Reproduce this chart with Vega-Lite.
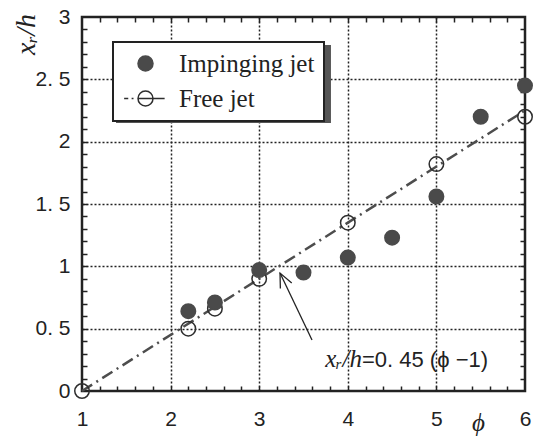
{
  "$schema": "https://vega.github.io/schema/vega-lite/v6.json",
  "width": 443,
  "height": 374,
  "autosize": "none",
  "padding": {"left": 82, "top": 17, "right": 10, "bottom": 47},
  "background": "white",
  "datasets": {
    "points": [
      {"phi": 1.0, "xr_h": 0.0, "series": "Free jet"},
      {"phi": 2.2, "xr_h": 0.5, "series": "Free jet"},
      {"phi": 2.5, "xr_h": 0.66, "series": "Free jet"},
      {"phi": 3.0, "xr_h": 0.9, "series": "Free jet"},
      {"phi": 4.0, "xr_h": 1.35, "series": "Free jet"},
      {"phi": 5.0, "xr_h": 1.82, "series": "Free jet"},
      {"phi": 6.0, "xr_h": 2.2, "series": "Free jet"},
      {"phi": 2.2, "xr_h": 0.64, "series": "Impinging jet"},
      {"phi": 2.5, "xr_h": 0.71, "series": "Impinging jet"},
      {"phi": 3.0, "xr_h": 0.97, "series": "Impinging jet"},
      {"phi": 3.5, "xr_h": 0.95, "series": "Impinging jet"},
      {"phi": 4.0, "xr_h": 1.07, "series": "Impinging jet"},
      {"phi": 4.5, "xr_h": 1.23, "series": "Impinging jet"},
      {"phi": 5.0, "xr_h": 1.56, "series": "Impinging jet"},
      {"phi": 5.5, "xr_h": 2.2, "series": "Impinging jet"},
      {"phi": 6.0, "xr_h": 2.45, "series": "Impinging jet"}
    ],
    "fit": [
      {"phi": 1, "xr_h": 0},
      {"phi": 6, "xr_h": 2.25}
    ],
    "one": [{}]
  },
  "config": {
    "view": {"stroke": "#222", "strokeWidth": 2.5},
    "axis": {
      "domain": false,
      "ticks": false,
      "tickColor": "#222",
      "tickWidth": 1.5,
      "labelColor": "#222",
      "labelFont": "Liberation Sans",
      "labelFontSize": 21,
      "labelOverlap": false,
      "labelFlush": false,
      "labelBound": false,
      "titleColor": "#222",
      "gridColor": "#222",
      "gridWidth": 1.5,
      "gridDash": [2, 2]
    },
    "legend": {
      "orient": "none",
      "legendX": 31,
      "legendY": 25,
      "fillColor": "white",
      "strokeColor": "#222",
      "strokeWidth": 2,
      "padding": 9,
      "rowPadding": 9,
      "labelFont": "Liberation Serif",
      "labelFontSize": 25,
      "labelColor": "#222",
      "symbolSize": 225,
      "symbolStrokeWidth": 1.5,
      "symbolStrokeColor": "#333",
      "symbolOpacity": 1,
      "symbolOffset": 11,
      "labelOffset": 21
    }
  },
  "resolve": {"axis": {"x": "independent", "y": "independent"}},
  "layer": [
    {
      "data": {"name": "one"},
      "mark": {"type": "rect", "color": "#555"},
      "encoding": {
        "x": {"datum": 1.384, "type": "quantitative", "scale": {"domain": [1, 6], "nice": false, "zero": false}, "axis": null},
        "x2": {"datum": 3.81},
        "y": {"datum": 2.775, "type": "quantitative", "scale": {"domain": [0, 3], "nice": false, "zero": false}, "axis": null},
        "y2": {"datum": 2.149}
      }
    },
    {
      "data": {"name": "fit"},
      "mark": {"type": "line", "color": "#4d4d4d", "strokeWidth": 2.5, "strokeDash": [12, 5, 2, 5]},
      "encoding": {
        "x": {
          "field": "phi", "type": "quantitative",
          "scale": {"domain": [1, 6], "nice": false, "zero": false},
          "axis": {
            "orient": "bottom",
            "values": [1, 2, 3, 4, 5, 6],
            "format": "d",
            "labelPadding": 17,
            "grid": true,
            "gridOpacity": {"condition": {"test": "datum.value > 1.5 && datum.value < 5.5", "value": 1}, "value": 0},
            "title": "ϕ",
            "titleFont": "Liberation Serif",
            "titleFontStyle": "italic",
            "titleFontWeight": "normal",
            "titleFontSize": 25,
            "titleAlign": "center",
            "titleBaseline": "middle",
            "titleX": 396,
            "titleY": 31
          }
        },
        "y": {
          "field": "xr_h", "type": "quantitative",
          "scale": {"domain": [0, 3], "nice": false, "zero": false},
          "axis": {
            "orient": "left",
            "values": [0, 0.5, 1, 1.5, 2, 2.5, 3],
            "labelExpr": "replace(format(datum.value, '~g'), '.', '. ')",
            "labelPadding": 12,
            "grid": true,
            "gridOpacity": {"condition": {"test": "datum.value > 0.25 && datum.value < 2.75", "value": 1}, "value": 0},
            "title": "xᵣ/h",
            "titleFont": "Liberation Serif",
            "titleFontStyle": "italic",
            "titleFontWeight": "normal",
            "titleFontSize": 28,
            "titleAngle": 270,
            "titleAlign": "center",
            "titleBaseline": "alphabetic",
            "titleX": -48,
            "titleY": 17
          }
        }
      }
    },
    {
      "data": {"name": "points"},
      "mark": {"type": "point", "shape": "circle", "size": 210, "strokeWidth": 1.5, "opacity": 1},
      "encoding": {
        "x": {
          "field": "phi", "type": "quantitative",
          "scale": {"domain": [1, 6], "nice": false, "zero": false},
          "axis": {
            "orient": "top",
            "values": [1.2, 1.4, 1.6, 1.8, 2, 2.2, 2.4, 2.6, 2.8, 3, 3.2, 3.4, 3.6, 3.8, 4, 4.2, 4.4, 4.6, 4.8, 5, 5.2, 5.4, 5.6, 5.8],
            "labels": false, "grid": false, "title": null,
            "ticks": true, "tickSize": 5, "offset": -5
          }
        },
        "y": {
          "field": "xr_h", "type": "quantitative",
          "scale": {"domain": [0, 3], "nice": false, "zero": false},
          "axis": {
            "orient": "right",
            "values": [0.1, 0.2, 0.3, 0.4, 0.5, 0.6, 0.7, 0.8, 0.9, 1, 1.1, 1.2, 1.3, 1.4, 1.5, 1.6, 1.7, 1.8, 1.9, 2, 2.1, 2.2, 2.3, 2.4, 2.5, 2.6, 2.7, 2.8, 2.9],
            "labels": false, "grid": false, "title": null,
            "ticks": true, "tickSize": 5, "offset": -5
          }
        },
        "fill": {"condition": {"test": "datum.series === 'Impinging jet'", "value": "#4a4a4a"}, "value": "transparent"},
        "stroke": {"condition": {"test": "datum.series === 'Impinging jet'", "value": "#4a4a4a"}, "value": "#2e2e2e"}
      }
    },
    {
      "data": {"name": "points"},
      "transform": [{"filter": "false"}],
      "mark": {"type": "point", "filled": true, "opacity": 1, "strokeWidth": 1.5},
      "encoding": {
        "x": {
          "field": "phi", "type": "quantitative",
          "scale": {"domain": [1, 6], "nice": false, "zero": false},
          "axis": {
            "orient": "bottom",
            "values": [1.2, 1.4, 1.6, 1.8, 2, 2.2, 2.4, 2.6, 2.8, 3, 3.2, 3.4, 3.6, 3.8, 4, 4.2, 4.4, 4.6, 4.8, 5, 5.2, 5.4, 5.6, 5.8],
            "labels": false, "grid": false, "title": null,
            "ticks": true, "tickSize": 5, "offset": -5
          }
        },
        "y": {
          "field": "xr_h", "type": "quantitative",
          "scale": {"domain": [0, 3], "nice": false, "zero": false},
          "axis": {
            "orient": "left",
            "values": [0.1, 0.2, 0.3, 0.4, 0.5, 0.6, 0.7, 0.8, 0.9, 1, 1.1, 1.2, 1.3, 1.4, 1.5, 1.6, 1.7, 1.8, 1.9, 2, 2.1, 2.2, 2.3, 2.4, 2.5, 2.6, 2.7, 2.8, 2.9],
            "labels": false, "grid": false, "title": null,
            "ticks": true, "tickSize": 5, "offset": -5
          }
        },
        "shape": {
          "field": "series", "type": "nominal",
          "scale": {"domain": ["Impinging jet", "Free jet"], "range": ["circle", "M1,0A1,1,0,1,1,-1,0A1,1,0,1,1,1,0ZM-1,0L1,0M-2.85,0L-2.3,0M-1.85,0L-1.6,0M1,0L2.55,0"]},
          "legend": {"title": null}
        },
        "fill": {
          "field": "series", "type": "nominal",
          "scale": {"domain": ["Impinging jet", "Free jet"], "range": ["#4a4a4a", "white"]},
          "legend": {"title": null}
        },
        "stroke": {
          "field": "series", "type": "nominal",
          "scale": {"domain": ["Impinging jet", "Free jet"], "range": ["#4a4a4a", "#2e2e2e"]},
          "legend": {"title": null}
        }
      }
    },
    {
      "data": {"name": "one"},
      "mark": {"type": "rule", "color": "#222", "strokeWidth": 1.3},
      "encoding": {
        "x": {"datum": 3.596, "type": "quantitative", "scale": {"domain": [1, 6], "nice": false, "zero": false}, "axis": null},
        "y": {"datum": 0.409, "type": "quantitative", "scale": {"domain": [0, 3], "nice": false, "zero": false}, "axis": null},
        "x2": {"datum": 3.235},
        "y2": {"datum": 0.946}
      }
    },
    {
      "data": {"name": "one"},
      "mark": {"type": "point", "shape": "M-0.45,1L0,0L0.45,1", "size": 784, "angle": 334.5, "filled": false, "stroke": "#222", "strokeWidth": 1.3, "opacity": 1},
      "encoding": {
        "x": {"datum": 3.235, "type": "quantitative", "scale": {"domain": [1, 6], "nice": false, "zero": false}, "axis": null},
        "y": {"datum": 0.946, "type": "quantitative", "scale": {"domain": [0, 3], "nice": false, "zero": false}, "axis": null}
      }
    },
    {
      "data": {"name": "one"},
      "mark": {"type": "text", "text": "xᵣ/h", "font": "Liberation Serif", "fontStyle": "italic", "fontSize": 25, "align": "right", "baseline": "alphabetic", "color": "#222"},
      "encoding": {
        "x": {"datum": 4.16, "type": "quantitative", "scale": {"domain": [1, 6], "nice": false, "zero": false}, "axis": null},
        "y": {"datum": 0.192, "type": "quantitative", "scale": {"domain": [0, 3], "nice": false, "zero": false}, "axis": null}
      }
    },
    {
      "data": {"name": "one"},
      "mark": {"type": "text", "text": "=0. 45 (ϕ −1)", "font": "Liberation Sans", "fontSize": 22, "align": "left", "baseline": "alphabetic", "color": "#222"},
      "encoding": {
        "x": {"datum": 4.16, "type": "quantitative", "scale": {"domain": [1, 6], "nice": false, "zero": false}, "axis": null},
        "y": {"datum": 0.192, "type": "quantitative", "scale": {"domain": [0, 3], "nice": false, "zero": false}, "axis": null}
      }
    }
  ]
}
